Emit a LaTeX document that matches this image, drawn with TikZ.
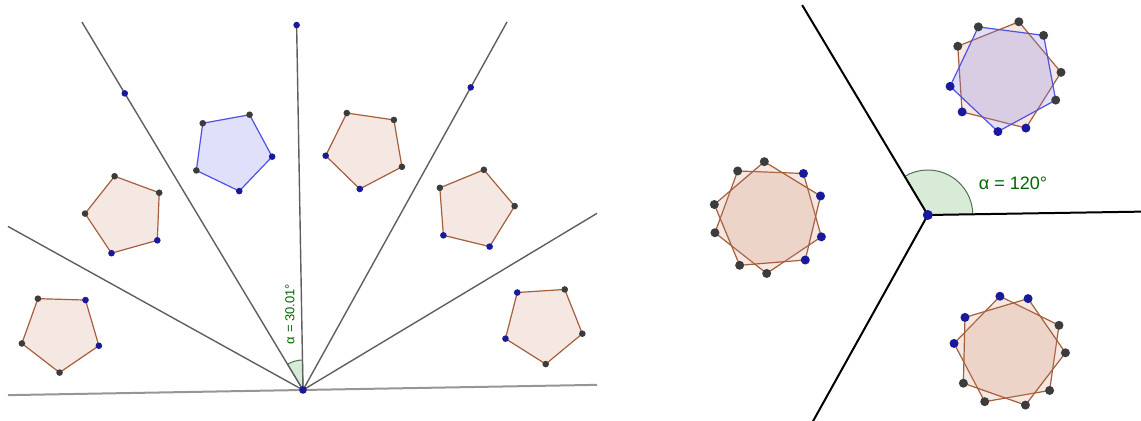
\documentclass[tikz,border=0pt]{standalone}
\usepackage{fontspec}
\setmainfont{Liberation Sans}
\usetikzlibrary{calc}
\definecolor{grayline}{RGB}{95,95,95}
\definecolor{lightline}{RGB}{150,150,150}
\definecolor{dotblack}{RGB}{60,60,60}
\definecolor{dotblue}{RGB}{25,25,155}
\definecolor{pentbrown}{RGB}{165,95,60}
\definecolor{pentfill}{RGB}{205,135,105}
\definecolor{bluestroke}{RGB}{80,80,225}
\definecolor{bluefill}{RGB}{130,130,235}
\definecolor{anglegreen}{RGB}{0,100,0}
\definecolor{anglefill}{RGB}{215,235,215}
\definecolor{sectorline}{RGB}{80,115,80}
\newcommand{\pentpath}[5]{%
  \path[#1] ($(#2)+({#3}:#5)$) -- ($(#2)+({#3+(#4)}:#5)$) -- ($(#2)+({#3+2*(#4)}:#5)$)
    -- ($(#2)+({#3+3*(#4)}:#5)$) -- ($(#2)+({#3+4*(#4)}:#5)$) -- cycle;}
\newcommand{\pentdots}[6]{%
  \foreach \c [count=\k from 0] in {#6}
    \fill[\c] ($(#1)+({#2+\k*(#3)}:#4)$) circle[radius=#5];}
\tikzset{
  ray/.style={draw=grayline, line width=0.7pt},
  hline/.style={draw=lightline, line width=1pt},
  bigray/.style={draw=black, line width=1pt},
  sector/.style={fill=anglefill, draw=sectorline, line width=0.5pt},
  brownpent/.style={draw=pentbrown, fill=pentfill, fill opacity=0.2, line width=0.6pt},
  bluepent/.style={draw=bluestroke, fill=bluefill, fill opacity=0.25, line width=0.6pt},
  anglelabel/.style={text=anglegreen, inner sep=0pt},
}
\begin{document}
\begin{tikzpicture}[x=0.5pt,y=0.5pt]
\useasboundingbox (0,0) rectangle (1141,421);
% ---------------- left panel ----------------
\coordinate (O) at (303,31);
\coordinate (HL) at ($(O)+(181:295.05)$);
\coordinate (HR) at ($(O)+(1:294.05)$);
\coordinate (R31) at ($(O)+(31:343)$);
\coordinate (R61) at ($(O)+(61:420.8)$);
\coordinate (R91) at ($(O)+(91:365)$);
\coordinate (R121) at ($(O)+(121:429.3)$);
\coordinate (R151) at ($(O)+(151:337.3)$);
\coordinate (D61) at ($(O)+(61:346)$);
\coordinate (D121) at ($(O)+(121:346)$);
\path[sector] (O) -- ($(O)+(91:30)$) arc[start angle=91,end angle=121,radius=30] -- cycle;
\draw[hline] (HL) -- (HR);
\foreach \r in {R31,R61,R91,R121,R151} \draw[ray] (O) -- (\r);
\node[anglelabel, rotate=90, font=\fontsize{6.5}{7}\selectfont] (lab1) at (290,107) {α = 30.01°};
\coordinate (C0) at ($(O)+(106.56:249.1)$);
\coordinate (C1) at ($(O)+(75.44:249.1)$);
\coordinate (C2) at ($(O)+(135.44:249.1)$);
\coordinate (C3) at ($(O)+(166.56:249.1)$);
\coordinate (C4) at ($(O)+(46.56:249.1)$);
\coordinate (C5) at ($(O)+(15.44:249.1)$);
\pentpath{bluepent}{C0}{-7.7}{72}{40.5}
\pentpath{brownpent}{C1}{189.7}{-72}{40.5}
\pentpath{brownpent}{C2}{249.7}{-72}{40.5}
\pentpath{brownpent}{C3}{52.3}{72}{40.5}
\pentpath{brownpent}{C4}{-67.7}{72}{40.5}
\pentpath{brownpent}{C5}{129.7}{-72}{40.5}
\pentdots{C0}{-7.7}{72}{40.5}{3.3}{dotblue,dotblack,dotblack,dotblack,dotblue}
\pentdots{C1}{189.7}{-72}{40.5}{3.3}{dotblue,dotblack,dotblack,dotblack,dotblue}
\pentdots{C2}{249.7}{-72}{40.5}{3.3}{dotblue,dotblack,dotblack,dotblack,dotblue}
\pentdots{C3}{52.3}{72}{40.5}{3.3}{dotblue,dotblack,dotblack,dotblack,dotblue}
\pentdots{C4}{-67.7}{72}{40.5}{3.3}{dotblue,dotblack,dotblack,dotblack,dotblue}
\pentdots{C5}{129.7}{-72}{40.5}{3.3}{dotblue,dotblack,dotblack,dotblack,dotblue}
\fill[dotblue] (D61) circle[radius=3.3];
\fill[dotblue] (D121) circle[radius=3.3];
\fill[dotblue] (R91) circle[radius=3.3];
\fill[dotblue] (O) circle[radius=3.8];
% ---------------- right panel ----------------
\coordinate (P) at (927.8,206);
\coordinate (S0) at ($(P)+(0.9:213.3)$);
\coordinate (S1) at ($(P)+(120.9:244.7)$);
\coordinate (S2) at ($(P)+(240.9:238)$);
\path[sector] (P) -- ($(P)+(0.9:45)$) arc[start angle=0.9,end angle=120.9,radius=45] -- cycle;
\foreach \s in {S0,S1,S2} \draw[bigray] (P) -- (\s);
\node[anglelabel, font=\fontsize{9}{10}\selectfont] (lab2) at (1013,238) {α = 120°};
\coordinate (T) at ($(P)+(60.9:159)$);
\coordinate (L) at ($(P)+(180.9:159)$);
\coordinate (B) at ($(P)+(300.9:159)$);
\pentpath{brownpent}{T}{3.8}{72}{56}
\pentpath{bluepent}{T}{46.6}{72}{56}
\pentpath{brownpent}{L}{123.8}{72}{56}
\pentpath{brownpent}{L}{166.6}{72}{56}
\pentpath{brownpent}{B}{243.8}{72}{56}
\pentpath{brownpent}{B}{286.6}{72}{56}
\pentdots{T}{3.8}{72}{56}{4.5}{dotblack,dotblack,dotblack,dotblue,dotblue}
\pentdots{T}{46.6}{72}{56}{4.5}{dotblack,dotblack,dotblue,dotblue,dotblack}
\pentdots{L}{123.8}{72}{56}{4.5}{dotblack,dotblack,dotblack,dotblue,dotblue}
\pentdots{L}{166.6}{72}{56}{4.5}{dotblack,dotblack,dotblue,dotblue,dotblack}
\pentdots{B}{243.8}{72}{56}{4.5}{dotblack,dotblack,dotblack,dotblue,dotblue}
\pentdots{B}{286.6}{72}{56}{4.5}{dotblack,dotblack,dotblue,dotblue,dotblack}
\fill[dotblue] (P) circle[radius=5];
\end{tikzpicture}
\end{document}
